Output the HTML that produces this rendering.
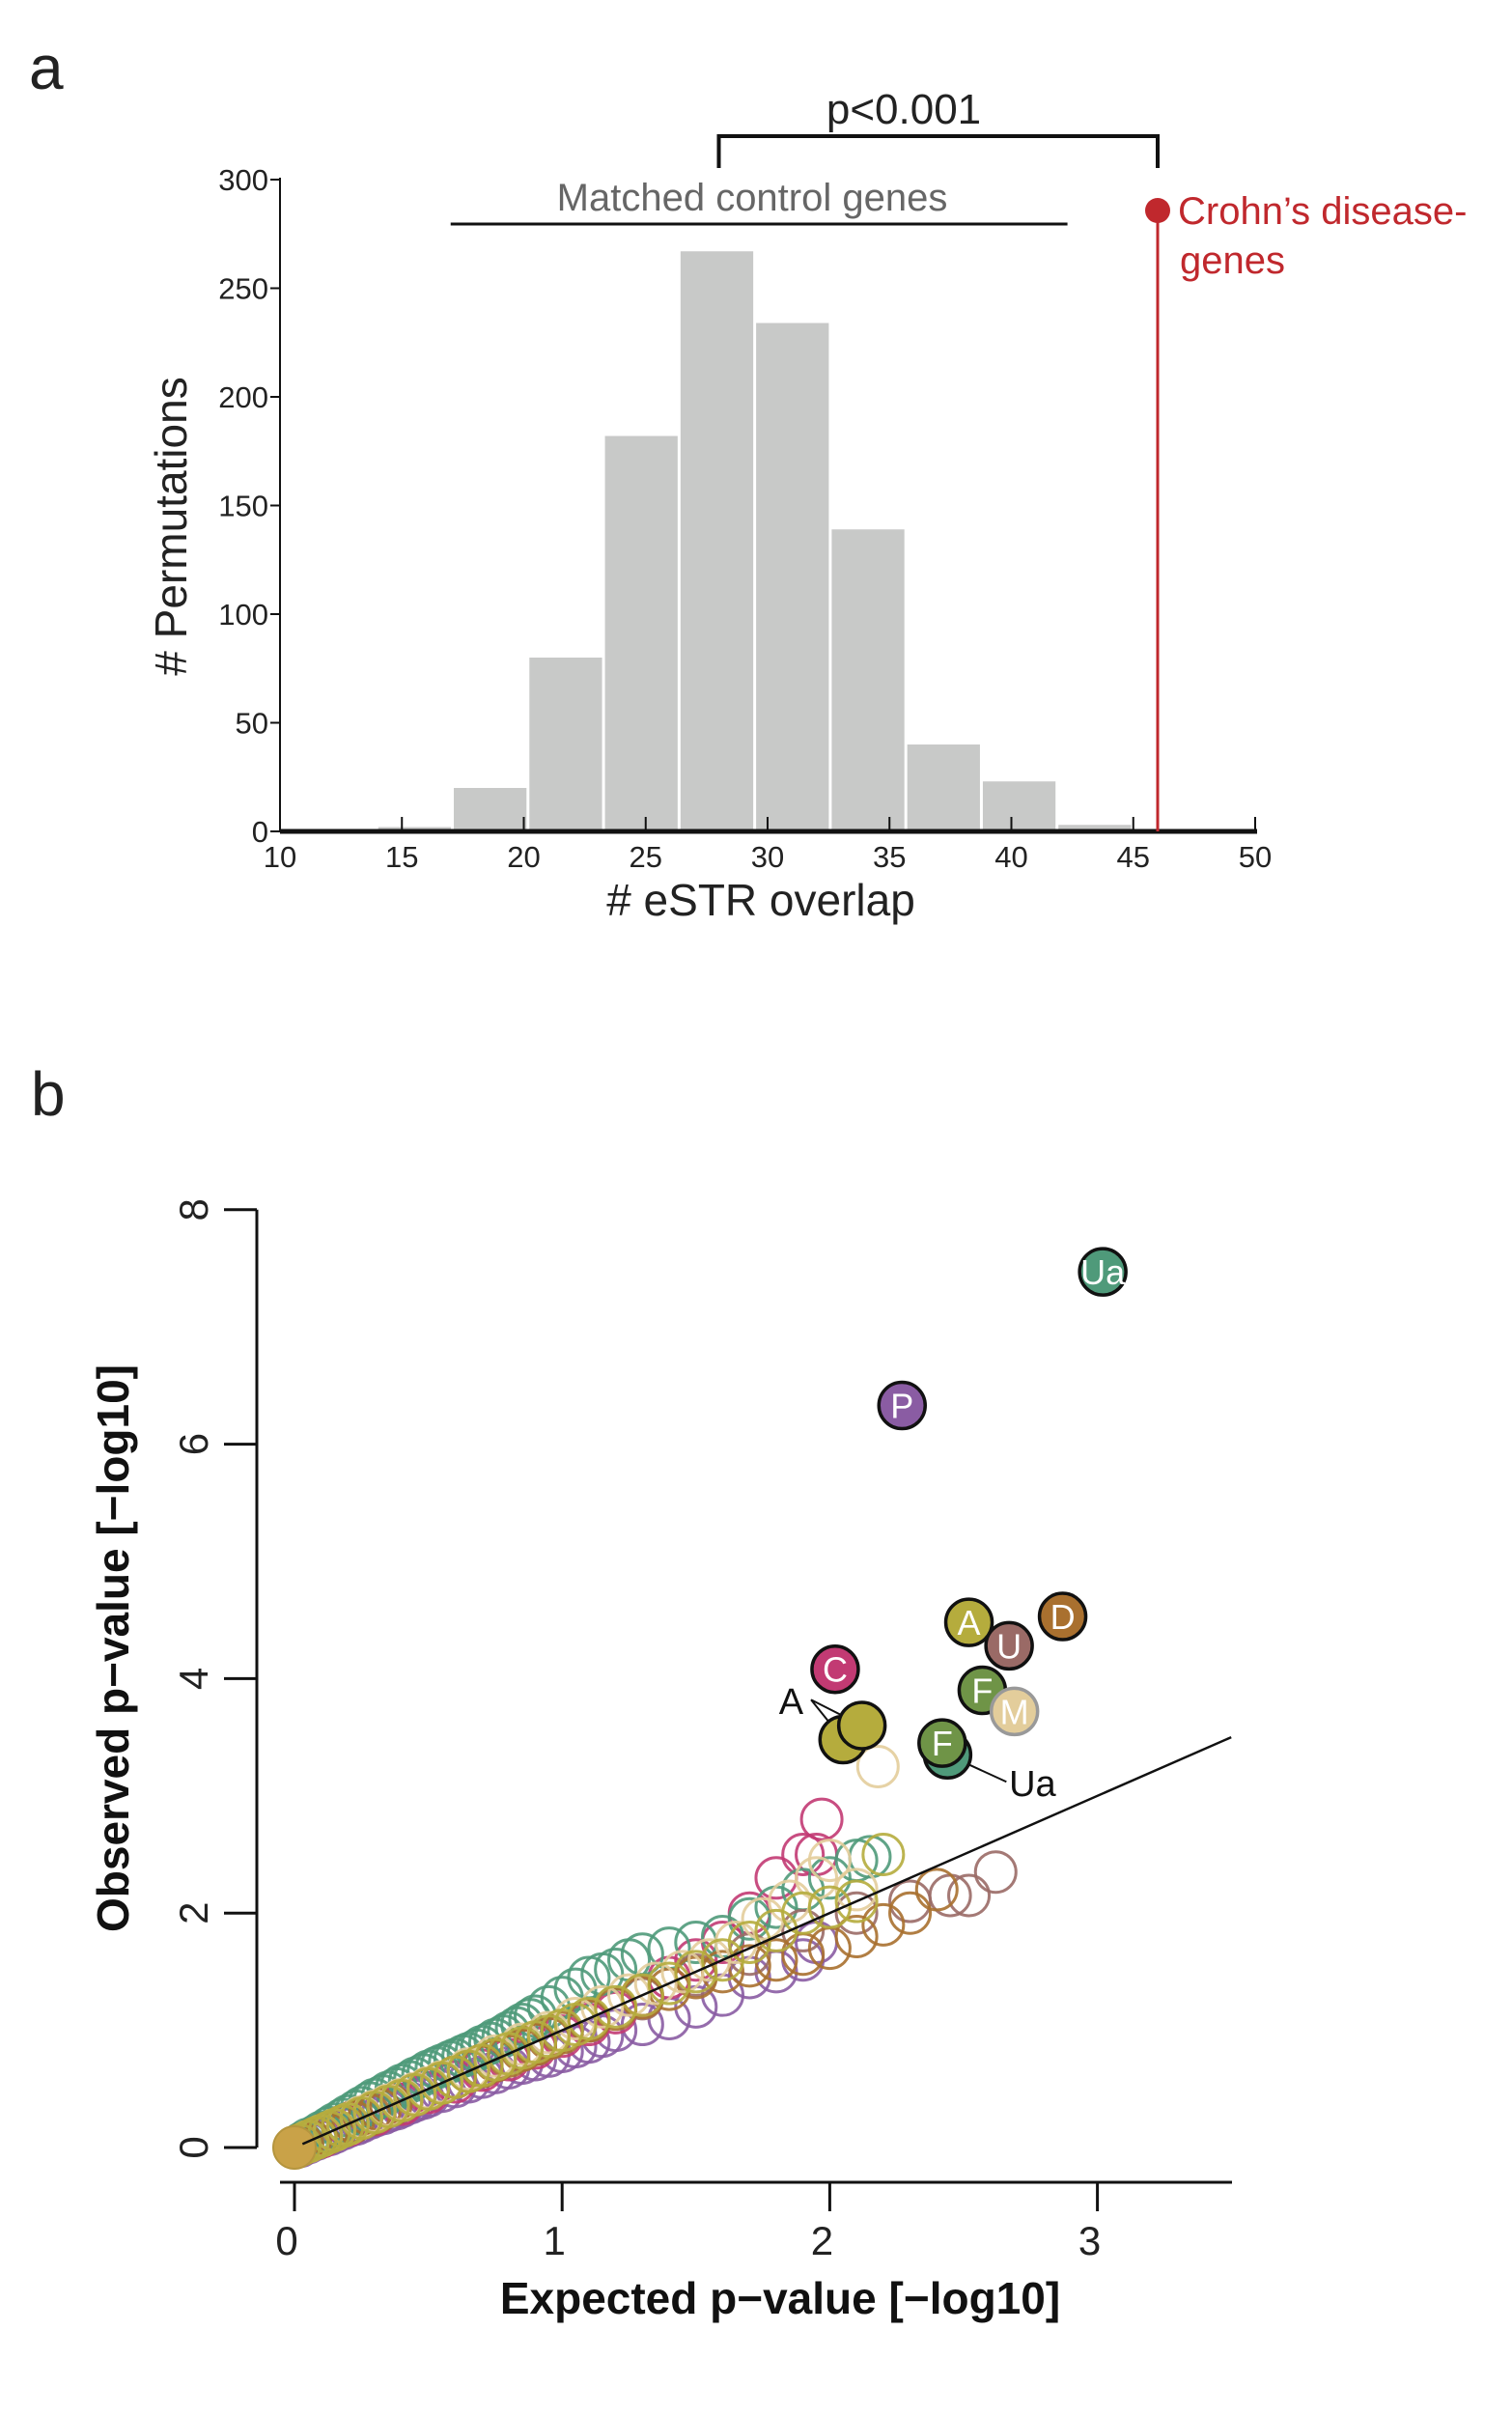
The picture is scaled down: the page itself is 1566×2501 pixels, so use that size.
<!DOCTYPE html>
<html><head><meta charset="utf-8"><style>
html,body{margin:0;padding:0;background:#fff;}
svg{display:block;}
.n{font-family:"Liberation Sans Narrow","Liberation Sans",sans-serif;}
.s{font-family:"Liberation Sans",sans-serif;}
</style></head><body>
<svg id="fig" width="1566" height="2501" viewBox="0 0 1566 2501" xmlns="http://www.w3.org/2000/svg">
<text x="30" y="92" class="s" font-size="64" fill="#222">a</text>
<text x="32" y="1155" class="s" font-size="64" fill="#222">b</text>
<g id="pa"></g>
<g id="pb"></g>
</svg>
<script>
// ---------- Panel a data ----------
const binStart = 13.97;
const binWidth = 3.1;
const binCounts = [2, 20, 80, 182, 267, 234, 139, 40, 23, 3];
const xTicksA = [10, 15, 20, 25, 30, 35, 40, 45, 50];
const yTicksA = [0, 50, 100, 150, 200, 250, 300];
const crohnValue = 46;
const bracketFrom = 28;
const controlRange = [17, 42.3];

// ---------- Panel b data ----------
const xTicksB = [0, 1, 2, 3];
const yTicksB = [0, 2, 4, 6, 8];
const greenX = [0.01,0.03,0.05,0.08,0.1,0.13,0.15,0.18,0.2,0.23,0.25,0.28,0.3,0.33,0.35,0.38,0.4,0.43,0.45,0.48,0.5,0.53,0.55,0.58,0.6,0.63,0.65,0.68,0.7,0.73,0.75,0.78,0.8,0.83,0.85,0.88,0.9,0.95,1.0,1.05,1.1,1.15,1.2,1.25,1.3,1.4,1.5,1.6,1.7,1.8,1.9,2.0,2.1,2.15];
const greenY = [0.01,0.04,0.07,0.1,0.13,0.17,0.2,0.24,0.27,0.31,0.34,0.38,0.41,0.44,0.47,0.5,0.53,0.56,0.59,0.62,0.65,0.68,0.7,0.73,0.75,0.78,0.8,0.83,0.86,0.89,0.92,0.95,0.98,1.02,1.05,1.09,1.12,1.2,1.28,1.35,1.45,1.48,1.52,1.6,1.65,1.7,1.75,1.8,1.95,2.05,2.2,2.3,2.45,2.48];
const purpleX = [0.02,0.05,0.08,0.1,0.13,0.15,0.18,0.2,0.23,0.25,0.28,0.3,0.33,0.35,0.38,0.4,0.43,0.45,0.48,0.5,0.55,0.6,0.65,0.7,0.75,0.8,0.85,0.9,0.95,1.0,1.05,1.1,1.15,1.2,1.3,1.4,1.5,1.6,1.7,1.8,1.9,1.95];
const purpleY = [0.01,0.04,0.07,0.09,0.11,0.13,0.16,0.18,0.2,0.22,0.25,0.27,0.29,0.31,0.33,0.35,0.38,0.4,0.42,0.44,0.48,0.52,0.56,0.6,0.64,0.68,0.72,0.75,0.78,0.82,0.86,0.9,0.95,1.0,1.05,1.1,1.2,1.3,1.45,1.5,1.6,1.75];
const magentaX = [0.02,0.1,0.2,0.3,0.4,0.5,0.6,0.7,0.8,0.9,1.0,1.1,1.2,1.3,1.4,1.5,1.6,1.7,1.8,1.9,1.95,1.97];
const magentaY = [0.02,0.09,0.19,0.28,0.37,0.47,0.56,0.66,0.75,0.85,0.95,1.05,1.15,1.3,1.45,1.6,1.75,2.0,2.3,2.5,2.5,2.8];
const oliveX = [0.0,0.02,0.05,0.08,0.1,0.13,0.15,0.18,0.2,0.25,0.3,0.35,0.4,0.45,0.5,0.55,0.6,0.65,0.7,0.75,0.8,0.85,0.9,0.95,1.0,1.05,1.1,1.2,1.3,1.4,1.5,1.6,1.7,1.8,1.9,2.0,2.1,2.2];
const oliveY = [0.0,0.02,0.05,0.08,0.1,0.13,0.15,0.18,0.2,0.25,0.3,0.35,0.4,0.45,0.5,0.55,0.6,0.65,0.7,0.75,0.8,0.85,0.9,0.95,1.0,1.05,1.1,1.2,1.3,1.4,1.5,1.6,1.75,1.85,2.0,2.05,2.1,2.5];
const tanX = [0.05,0.1,0.15,0.2,0.25,0.3,0.35,0.4,0.45,0.5,0.55,0.65,0.75,0.85,0.95,1.05,1.15,1.25,1.35,1.45,1.55,1.65,1.75,1.85,1.95,2.0,2.1,2.18];
const tanY = [0.05,0.1,0.15,0.2,0.26,0.31,0.36,0.41,0.46,0.51,0.56,0.67,0.78,0.88,0.98,1.1,1.2,1.3,1.4,1.5,1.6,1.75,1.95,2.1,2.3,2.45,2.2,3.25];
const brownX = [0.0,0.03,0.06,0.08,0.12,0.15,0.18,0.22,0.25,0.28,0.32,0.36,0.4,0.45,0.5,0.55,0.6,0.65,0.7,0.75,0.8,0.85,0.9,0.95,1.0,1.1,1.2,1.3,1.4,1.5,1.6,1.7,1.8,1.9,2.0,2.1,2.2,2.3,2.4];
const brownY = [0.0,0.03,0.06,0.08,0.12,0.15,0.18,0.22,0.25,0.28,0.32,0.36,0.4,0.45,0.5,0.55,0.6,0.65,0.69,0.74,0.78,0.83,0.88,0.93,0.98,1.08,1.18,1.28,1.35,1.45,1.5,1.55,1.6,1.65,1.7,1.8,1.9,2.0,2.2];
const mauveX = [0.1,0.3,0.5,0.7,0.9,1.1,1.3,1.5,1.7,1.9,2.1,2.3,2.45,2.52,2.62];
const mauveY = [0.1,0.3,0.5,0.7,0.88,1.08,1.27,1.47,1.65,1.85,2.0,2.1,2.15,2.15,2.35];
const labX = [3.02, 2.27, 2.02, 2.52, 2.67, 2.87, 2.57, 2.69, 2.44, 2.42, 2.12, 2.05];
const labY = [7.47, 6.33, 4.08, 4.48, 4.28, 4.53, 3.9, 3.72, 3.35, 3.45, 3.6, 3.48];
const labText = ["Ua","P","C","A","U","D","F","M","","F","",""];
const labColor = ["#4f9a7a","#8a5ca3","#c23a73","#b5ac3d","#9a6a66","#a9702f","#6f9447","#e3cd9b","#4f9a7a","#6f9447","#b5ac3d","#b5ac3d"];

const NS = "http://www.w3.org/2000/svg";
function mk(parent, tag, attrs, txt){
  const e = document.createElementNS(NS, tag);
  for (const k in attrs) e.setAttribute(k, attrs[k]);
  if (txt !== undefined) e.textContent = txt;
  parent.appendChild(e);
  return e;
}
// ---------- Panel a ----------
const pa = document.getElementById('pa');
const xa = v => 290 + (v - 10) * 25.25;
const ya = c => 861 - c * 2.25;
binCounts.forEach((c, i) => {
  const x0 = xa(binStart + i * binWidth), x1 = xa(binStart + (i + 1) * binWidth);
  const r = mk(pa, 'rect', {x: x0 + 1.5, y: ya(c), width: x1 - x0 - 3, height: 861 - ya(c), fill: '#c8c9c8'});
  
  
});
let l = mk(pa, 'line', {x1: 290, y1: 861, x2: 1302, y2: 861, stroke: '#111', 'stroke-width': 5});
 
l = mk(pa, 'line', {x1: 290, y1: ya(300) - 2, x2: 290, y2: 861, stroke: '#111', 'stroke-width': 2});
 
xTicksA.forEach(v => {
  mk(pa, 'line', {x1: xa(v), y1: 861, x2: xa(v), y2: 846, stroke: '#111', 'stroke-width': 2});
  const t = mk(pa, 'text', {x: xa(v), y: 898, 'text-anchor': 'middle', 'font-size': 31, fill: '#222', class: 'n'}, String(v));
   
});
yTicksA.forEach(v => {
  mk(pa, 'line', {x1: 290, y1: ya(v), x2: 280, y2: ya(v), stroke: '#111', 'stroke-width': 2});
  const t = mk(pa, 'text', {x: 278, y: ya(v) + 11, 'text-anchor': 'end', 'font-size': 31, fill: '#222', class: 'n'}, String(v));
   
});
let t = mk(pa, 'text', {x: 788, y: 948, 'text-anchor': 'middle', 'font-size': 46, fill: '#222', class: 'n'}, '# eSTR overlap');
 
t = mk(pa, 'text', {x: 0, y: 0, 'text-anchor': 'middle', 'font-size': 46, fill: '#222', class: 's', transform: 'translate(193,545) rotate(-90)'}, '# Permutations');
 
let p = mk(pa, 'path', {d: `M${xa(bracketFrom)},174 V141 H${xa(crohnValue)} V174`, fill: 'none', stroke: '#111', 'stroke-width': 4});
 
t = mk(pa, 'text', {x: 936, y: 128, 'text-anchor': 'middle', 'font-size': 44, fill: '#222', class: 'n'}, 'p<0.001');
 
l = mk(pa, 'line', {x1: xa(controlRange[0]), y1: 232, x2: xa(controlRange[1]), y2: 232, stroke: '#111', 'stroke-width': 3});
 
t = mk(pa, 'text', {x: 779, y: 218, 'text-anchor': 'middle', 'font-size': 40, fill: '#666', class: 'n'}, 'Matched control genes');
 
l = mk(pa, 'line', {x1: xa(crohnValue), y1: 218, x2: xa(crohnValue), y2: 861, stroke: '#c0282d', 'stroke-width': 3});
 
let c = mk(pa, 'circle', {cx: xa(crohnValue), cy: 218, r: 13, fill: '#c0282d'});
 
t = mk(pa, 'text', {x: 1220, y: 232, 'font-size': 40, fill: '#c0282d', class: 'n'}, 'Crohn’s disease-');
 
t = mk(pa, 'text', {x: 1222, y: 283, 'font-size': 40, fill: '#c0282d', class: 'n'}, 'genes');
 

// ---------- Panel b ----------
const pb = document.getElementById('pb');
const xb = v => 305 + v * 277.2;
const yb = v => 2224 - v * 121.4;
l = mk(pb, 'line', {x1: 266, y1: yb(8), x2: 266, y2: yb(0), stroke: '#111', 'stroke-width': 3});
 
l = mk(pb, 'line', {x1: 290, y1: 2260, x2: 1276, y2: 2260, stroke: '#111', 'stroke-width': 3});
 
yTicksB.forEach(v => {
  mk(pb, 'line', {x1: 266, y1: yb(v), x2: 232, y2: yb(v), stroke: '#111', 'stroke-width': 3});
  const tt = mk(pb, 'text', {x: 0, y: 0, 'text-anchor': 'middle', 'font-size': 42, fill: '#222', class: 's', transform: `translate(215,${yb(v)}) rotate(-90)`}, String(v));
   
});
xTicksB.forEach(v => {
  mk(pb, 'line', {x1: xb(v), y1: 2260, x2: xb(v), y2: 2290, stroke: '#111', 'stroke-width': 3});
  const tt = mk(pb, 'text', {x: xb(v) - 8, y: 2335, 'text-anchor': 'middle', 'font-size': 42, fill: '#222', class: 's'}, String(v));
   
});
t = mk(pb, 'text', {x: 808, y: 2396, 'text-anchor': 'middle', 'font-size': 46, 'font-weight': 'bold', fill: '#111', class: 's'}, 'Expected p\u2212value [\u2212log10]');
 
t = mk(pb, 'text', {x: 0, y: 0, 'text-anchor': 'middle', 'font-size': 46, 'font-weight': 'bold', fill: '#111', class: 's', transform: 'translate(133,1707) rotate(-90)'}, 'Observed p\u2212value [\u2212log10]');
 

function series(xs, ys, col, name){
  const g = mk(pb, 'g', {});
  
  
  xs.forEach((x, i) => {
    const cc = mk(g, 'circle', {cx: xb(x), cy: yb(ys[i]), r: 21, fill: 'none', stroke: col, 'stroke-width': 3, opacity: 0.9});
    
    
  });
}
series(purpleX, purpleY, '#8a5ca3', 'series-purple');
series(magentaX, magentaY, '#c23a73', 'series-magenta');
series(greenX, greenY, '#4f9a7a', 'series-green');
series(mauveX, mauveY, '#9a6a66', 'series-mauve');
series(brownX, brownY, '#a9702f', 'series-brown');
series(tanX, tanY, '#e3cd9b', 'series-tan');
series(oliveX, oliveY, '#b5ac3d', 'series-olive');
c = mk(pb, 'circle', {cx: xb(0), cy: yb(0), r: 22, fill: '#c9a248', stroke: '#b5953e', 'stroke-width': 2});
 

l = mk(pb, 'line', {x1: xb(0.03), y1: yb(0.03), x2: xb(3.5), y2: yb(3.5), stroke: '#111', 'stroke-width': 2.5});
 

mk(pb, 'path', {d: `M${xb(1.93)},${yb(3.82)} L${xb(2.12)},${yb(3.6)} M${xb(1.93)},${yb(3.82)} L${xb(2.05)},${yb(3.48)} M${xb(2.44)},${yb(3.35)} L${xb(2.66)},${yb(3.12)}`, stroke: '#111', 'stroke-width': 2, fill: 'none'});
t = mk(pb, 'text', {x: xb(1.81), y: yb(3.7), 'font-size': 38, fill: '#111', class: 's'}, 'A');
 
t = mk(pb, 'text', {x: xb(2.67), y: yb(3.0), 'font-size': 38, fill: '#111', class: 's'}, 'Ua');
 

const order = [11, 10, 8, 9, 2, 6, 7, 3, 4, 5, 1, 0];
order.forEach(i => {
  const g = mk(pb, 'g', {});
  
  
  mk(g, 'circle', {cx: xb(labX[i]), cy: yb(labY[i]), r: 24, fill: labColor[i], stroke: i === 7 ? '#999' : '#111', 'stroke-width': 3.5});
  if (labText[i]) mk(g, 'text', {x: xb(labX[i]), y: yb(labY[i]) + 13, 'text-anchor': 'middle', 'font-size': 36, fill: '#fff', class: 's'}, labText[i]);
});
</script>
</body></html>
